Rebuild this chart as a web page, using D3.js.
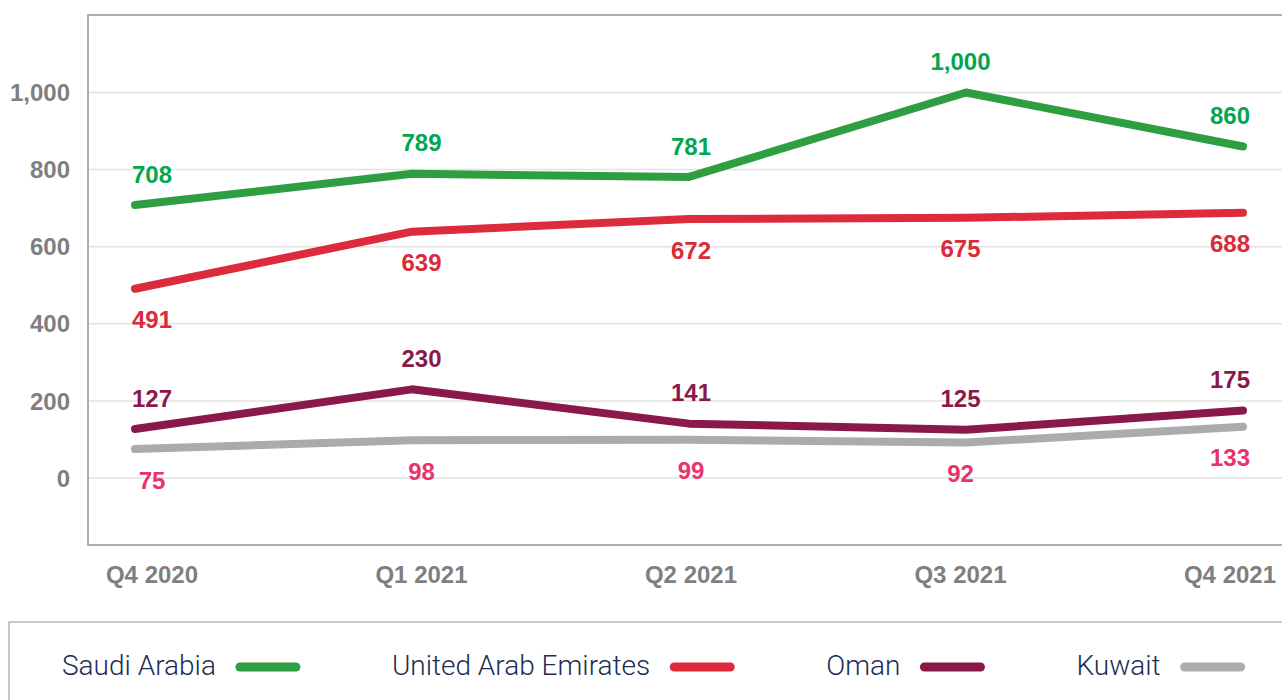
<!DOCTYPE html>
<html>
	<head>
		<style>
			body {
				margin: 0;
				background: #fff;
			}

			#chart {
				display: block;
			}

			.num {
				font-family: 'Liberation Sans', Arial, sans-serif;
				font-weight: bold;
				font-size: 24px;
			}

			.legend text {
				font-family: Roboto, 'Liberation Sans', sans-serif;
				font-weight: 300;
				font-size: 28px;
				fill: #1d2d52;
			}
		</style>
	</head>
	<body>
		<svg id="chart" width="1282" height="700"></svg>
		<script src="https://cdnjs.cloudflare.com/ajax/libs/d3/7.8.5/d3.min.js"></script>

		<script>
			let quarters = ['Q4 2020', 'Q1 2021', 'Q2 2021', 'Q3 2021', 'Q4 2021'];
			let countries = ['Saudi Arabia', 'United Arab Emirates', 'Oman', 'Kuwait'];

			let saudi = [708, 789, 781, 1000, 860];
			let uae = [491, 639, 672, 675, 688];
			let oman = [127, 230, 141, 125, 175];
			let kuwait = [75, 98, 99, 92, 133];

			let yTicks = [0, 200, 400, 600, 800, 1000];

			let lineColors = ['#2e9e41', '#dc2b3b', '#8a1849', '#a9abad'];
			let labelColors = ['#00a650', '#d92b3a', '#8a1849', '#e8336f'];
			// labels above (-1) or below (+1) the line
			let labelSide = [-1, 1, -1, 1];

			let series = [saudi, uae, oman, kuwait];

			let frame = { left: 88, top: 15, bottom: 545, right: 1290 };

			let svg = d3.select('#chart');

			let x = d3.scalePoint().domain(quarters).range([135, 1243]);
			// category labels sit a little inside the points
			let xLabel = d3.scalePoint().domain(quarters).range([152, 1230]);
			let y = d3.scaleLinear().domain([0, 1000]).range([478, 92.5]);

			// gridlines
			svg.append('g')
				.selectAll('line')
				.data(yTicks)
				.enter()
				.append('line')
				.attr('x1', frame.left)
				.attr('x2', frame.right)
				.attr('y1', d => y(d))
				.attr('y2', d => y(d))
				.attr('stroke', '#e3e3e3')
				.attr('stroke-width', 1.5);

			// frame (left, top, bottom)
			svg.append('path')
				.attr('d', `M${frame.right},${frame.top}H${frame.left}V${frame.bottom}H${frame.right}`)
				.attr('fill', 'none')
				.attr('stroke', '#b1afb0')
				.attr('stroke-width', 2);

			// y tick labels
			svg.append('g')
				.selectAll('text')
				.data(yTicks)
				.enter()
				.append('text')
				.attr('class', 'num')
				.attr('x', 70)
				.attr('y', d => y(d))
				.attr('dy', '0.36em')
				.attr('text-anchor', 'end')
				.attr('fill', '#7f7f7f')
				.text(d => d3.format(',')(d));

			// x labels
			svg.append('g')
				.selectAll('text')
				.data(quarters)
				.enter()
				.append('text')
				.attr('class', 'num')
				.attr('x', d => xLabel(d))
				.attr('y', 583)
				.attr('text-anchor', 'middle')
				.attr('fill', '#7f7f7f')
				.text(d => d);

			let line = d3
				.line()
				.x((d, i) => x(quarters[i]))
				.y(d => y(d));

			// draw back to front so Saudi Arabia sits on top
			series
				.map((s, k) => ({ s, k }))
				.reverse()
				.forEach(({ s, k }) => {
					svg.append('path')
						.datum(s)
						.attr('d', line)
						.attr('fill', 'none')
						.attr('stroke', lineColors[k])
						.attr('stroke-width', 8)
						.attr('stroke-linecap', 'round')
						.attr('stroke-linejoin', 'round');
				});

			series.forEach((s, k) => {
				svg.append('g')
					.selectAll('text')
					.data(s)
					.enter()
					.append('text')
					.attr('class', 'num')
					.attr('x', (d, i) => xLabel(quarters[i]))
					.attr('y', d => y(d) + labelSide[k] * 31)
					.attr('dy', '0.36em')
					.attr('text-anchor', 'middle')
					.attr('fill', labelColors[k])
					.text(d => d3.format(',')(d));
			});

			// legend
			let legend = svg.append('g').attr('class', 'legend');

			legend.append('rect')
				.attr('x', 9)
				.attr('y', 622)
				.attr('width', 1300)
				.attr('height', 120)
				.attr('fill', 'none')
				.attr('stroke', '#b5b5b5')
				.attr('stroke-width', 1.5);

			let cursor = 62;
			countries.forEach((name, k) => {
				let t = legend.append('text')
					.attr('x', cursor)
					.attr('y', 675)
					.text(name);
				let w = t.node().getComputedTextLength();
				let sx = cursor + w + 24;
				legend.append('line')
					.attr('x1', sx)
					.attr('x2', sx + 56)
					.attr('y1', 667)
					.attr('y2', 667)
					.attr('stroke', k === 3 ? '#afabab' : lineColors[k])
					.attr('stroke-width', 9)
					.attr('stroke-linecap', 'round');
				cursor = sx + 56 + 96;
			});
		</script>
	</body>
</html>
